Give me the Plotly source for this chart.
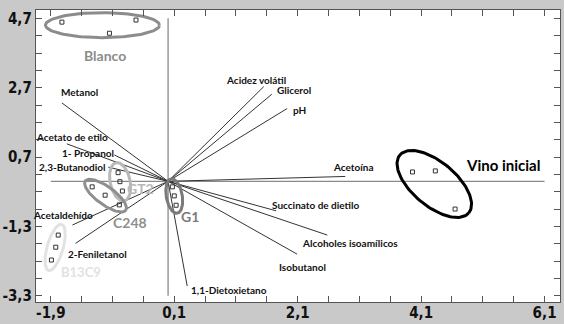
import numpy as np
import plotly.graph_objects as go

# ---------------- data ----------------
x_tick_vals = [-1.9, 0.1, 2.1, 4.1, 6.1]
x_tick_text = ["-1,9", "0,1", "2,1", "4,1", "6,1"]
y_tick_vals = [-3.3, -1.3, 0.7, 2.7, 4.7]
y_tick_text = ["-3,3", "-1,3", "0,7", "2,7", "4,7"]

# variable loadings (end points of the vectors)
var_names = ["Acidez volátil", "Glicerol", "pH", "Acetoína", "Succinato de dietilo",
             "Alcoholes isoamílicos", "Isobutanol", "1,1-Dietoxietano", "2-Feniletanol",
             "Acetaldehído", "2,3-Butanodiol", "1- Propanol", "Acetato de etilo", "Metanol"]
var_x = [1.55, 1.68, 1.93, 2.87, 1.75, 2.58, 2.09, 0.31, -1.50, -1.55, -0.97, -0.87, -1.64, -1.72]
var_y = [2.73, 2.51, 2.10, 0.14, -0.85, -1.55, -2.10, -3.02, -1.79, -1.26, 0.41, 0.76, 1.08, 2.26]

# sample scores per group
groups = ["Blanco", "Vino inicial", "G1", "GT2", "C248", "B13C9"]
blanco_x = [-1.72, -0.95, -0.52]
blanco_y = [4.59, 4.27, 4.65]
vino_x = [3.96, 4.33, 4.65]
vino_y = [0.27, 0.30, -0.80]
g1_x = [0.07, 0.10, 0.13]
g1_y = [-0.16, -0.42, -0.69]
gt2_x = [-0.81, -0.78, -0.74]
gt2_y = [0.25, -0.01, -0.28]
c248_x = [-1.23, -1.02, -0.79]
c248_y = [-0.16, -0.40, -0.68]
b13c9_x = [-1.78, -1.82, -1.89]
b13c9_y = [-1.55, -1.90, -2.27]
group_x = [blanco_x, vino_x, g1_x, gt2_x, c248_x, b13c9_x]
group_y = [blanco_y, vino_y, g1_y, gt2_y, c248_y, b13c9_y]

# ---------------- layout constants ----------------
W, H = 564, 324
ML, MR, MT, MB = 36, 4, 10, 22
XR = [-2.14, 6.35]
YR = [-3.48, 4.94]
px_x = (W - ML - MR) / (XR[1] - XR[0])
px_y = (H - MT - MB) / (YR[1] - YR[0])

# ellipse styles (pixel semi-axes, rotation in screen degrees)
ell_style = {
    "Blanco":       dict(a=57, b=12.5, ang=0,   color="#8c8c8c", w=3),
    "Vino inicial": dict(a=45, b=22,   ang=-40, color="#000000", w=3),
    "G1":           dict(a=17.5, b=8,  ang=100, color="#7a7a7a", w=3),
    "GT2":          dict(a=19.5, b=10, ang=102, color="#b8b8b8", w=3),
    "C248":         dict(a=25, b=9,    ang=-36, color="#8f8f8f", w=3),
    "B13C9":        dict(a=24, b=8,    ang=74,  color="#e2e2e2", w=3),
}
group_label_style = {
    "Blanco":       dict(dx=3,  dy=-30, size=14, color="#8c8c8c"),
    "Vino inicial": dict(dx=69, dy=19,  size=15, color="#000000"),
    "G1":           dict(dx=16, dy=-20, size=14, color="#7a7a7a"),
    "GT2":          dict(dx=20, dy=-7,  size=14, color="#b8b8b8"),
    "C248":         dict(dx=24, dy=-27, size=14, color="#8f8f8f"),
    "B13C9":        dict(dx=26, dy=-25, size=13, color="#e2e2e2"),
}
# label offsets (pixels) relative to the vector end
var_label_off = {
    "Acidez volátil": (-8, 7), "Glicerol": (22, 4), "pH": (12, -2), "Acetoína": (8, 9),
    "Succinato de dietilo": (39, 6), "Alcoholes isoamílicos": (23, -8),
    "Isobutanol": (5, -13), "1,1-Dietoxietano": (42, -4), "2-Feniletanol": (22, -11),
    "Acetaldehído": (-9, 10), "2,3-Butanodiol": (-36, 0), "1- Propanol": (-26, 2),
    "Acetato de etilo": (5, 7), "Metanol": (18, 11),
}

LBL_FONT = "Lato, 'Open Sans', sans-serif"
TICK_FONT = "'Liberation Sans Narrow', 'DejaVu Sans Condensed', 'Arial Narrow', sans-serif"

fig = go.Figure()

# axis cross lines
fig.add_trace(go.Scatter(x=[x_tick_vals[0], x_tick_vals[-1]], y=[0, 0], mode="lines",
                         line=dict(color="#8a8a8a", width=1.3), hoverinfo="skip", showlegend=False))
fig.add_trace(go.Scatter(x=[0, 0], y=[y_tick_vals[-1], y_tick_vals[0]], mode="lines",
                         line=dict(color="#8a8a8a", width=1.3), hoverinfo="skip", showlegend=False))

# loading vectors
for n, vx, vy in zip(var_names, var_x, var_y):
    fig.add_trace(go.Scatter(x=[0, vx], y=[0, vy], mode="lines",
                             line=dict(color="#333333", width=1), hoverinfo="skip", showlegend=False))
    dx, dy = var_label_off[n]
    fig.add_annotation(x=vx, y=vy, xref="x", yref="y", text="<b>%s</b>" % n, showarrow=False,
                       xshift=dx, yshift=dy, font=dict(family=LBL_FONT, size=10, color="#111111"))

# ellipses and samples
t = np.linspace(0, 2 * np.pi, 120)
for g, gx, gy in zip(groups, group_x, group_y):
    st = ell_style[g]
    cx, cy = np.mean(gx), np.mean(gy)
    th = np.deg2rad(st["ang"])
    ex = st["a"] * np.cos(t) * np.cos(th) - st["b"] * np.sin(t) * np.sin(th)
    ey = st["a"] * np.cos(t) * np.sin(th) + st["b"] * np.sin(t) * np.cos(th)
    fig.add_trace(go.Scatter(x=cx + ex / px_x, y=cy + ey / px_y, mode="lines",
                             line=dict(color=st["color"], width=st["w"]),
                             hoverinfo="skip", showlegend=False))
    fig.add_trace(go.Scatter(x=gx, y=gy, mode="markers",
                             marker=dict(symbol="square-open", size=4, color="#333333",
                                         line=dict(width=1)),
                             showlegend=False))
    ls = group_label_style[g]
    fig.add_annotation(x=cx, y=cy, xref="x", yref="y", text="<b>%s</b>" % g, showarrow=False,
                       xshift=ls["dx"], yshift=ls["dy"],
                       font=dict(family=LBL_FONT, size=ls["size"], color=ls["color"]))

axis_common = dict(showgrid=False, zeroline=False, showline=True, linecolor="#555555",
                   linewidth=1.2, mirror="ticks", ticks="inside", ticklen=6,
                   tickcolor="#555555", tickwidth=1.2, automargin=False,
                   tickfont=dict(family=TICK_FONT, size=15, color="#111111", weight="bold"),
                   tickmode="array",
                   minor=dict(ticks="inside", ticklen=6, tickcolor="#555555", tickwidth=1.2,
                              dtick=0.5, tick0=0.1, tickmode="linear", showgrid=False))

fig.update_xaxes(range=XR, tickvals=x_tick_vals, ticktext=x_tick_text, ticklabelstandoff=-3,
                 **axis_common)
fig.update_yaxes(range=YR, tickvals=y_tick_vals, ticktext=y_tick_text, **axis_common)
fig.update_yaxes(minor=dict(tick0=0.7))

fig.update_layout(template="none", width=W, height=H, margin=dict(l=ML, r=MR, t=MT, b=MB),
                  paper_bgcolor="#c9c9c9", plot_bgcolor="#ffffff", showlegend=False)

fig.write_html("out.html", config={"displayModeBar": False},
               post_script="document.body.style.margin='0';document.body.style.padding='0';"
                           "document.body.style.background='#c9c9c9';")
